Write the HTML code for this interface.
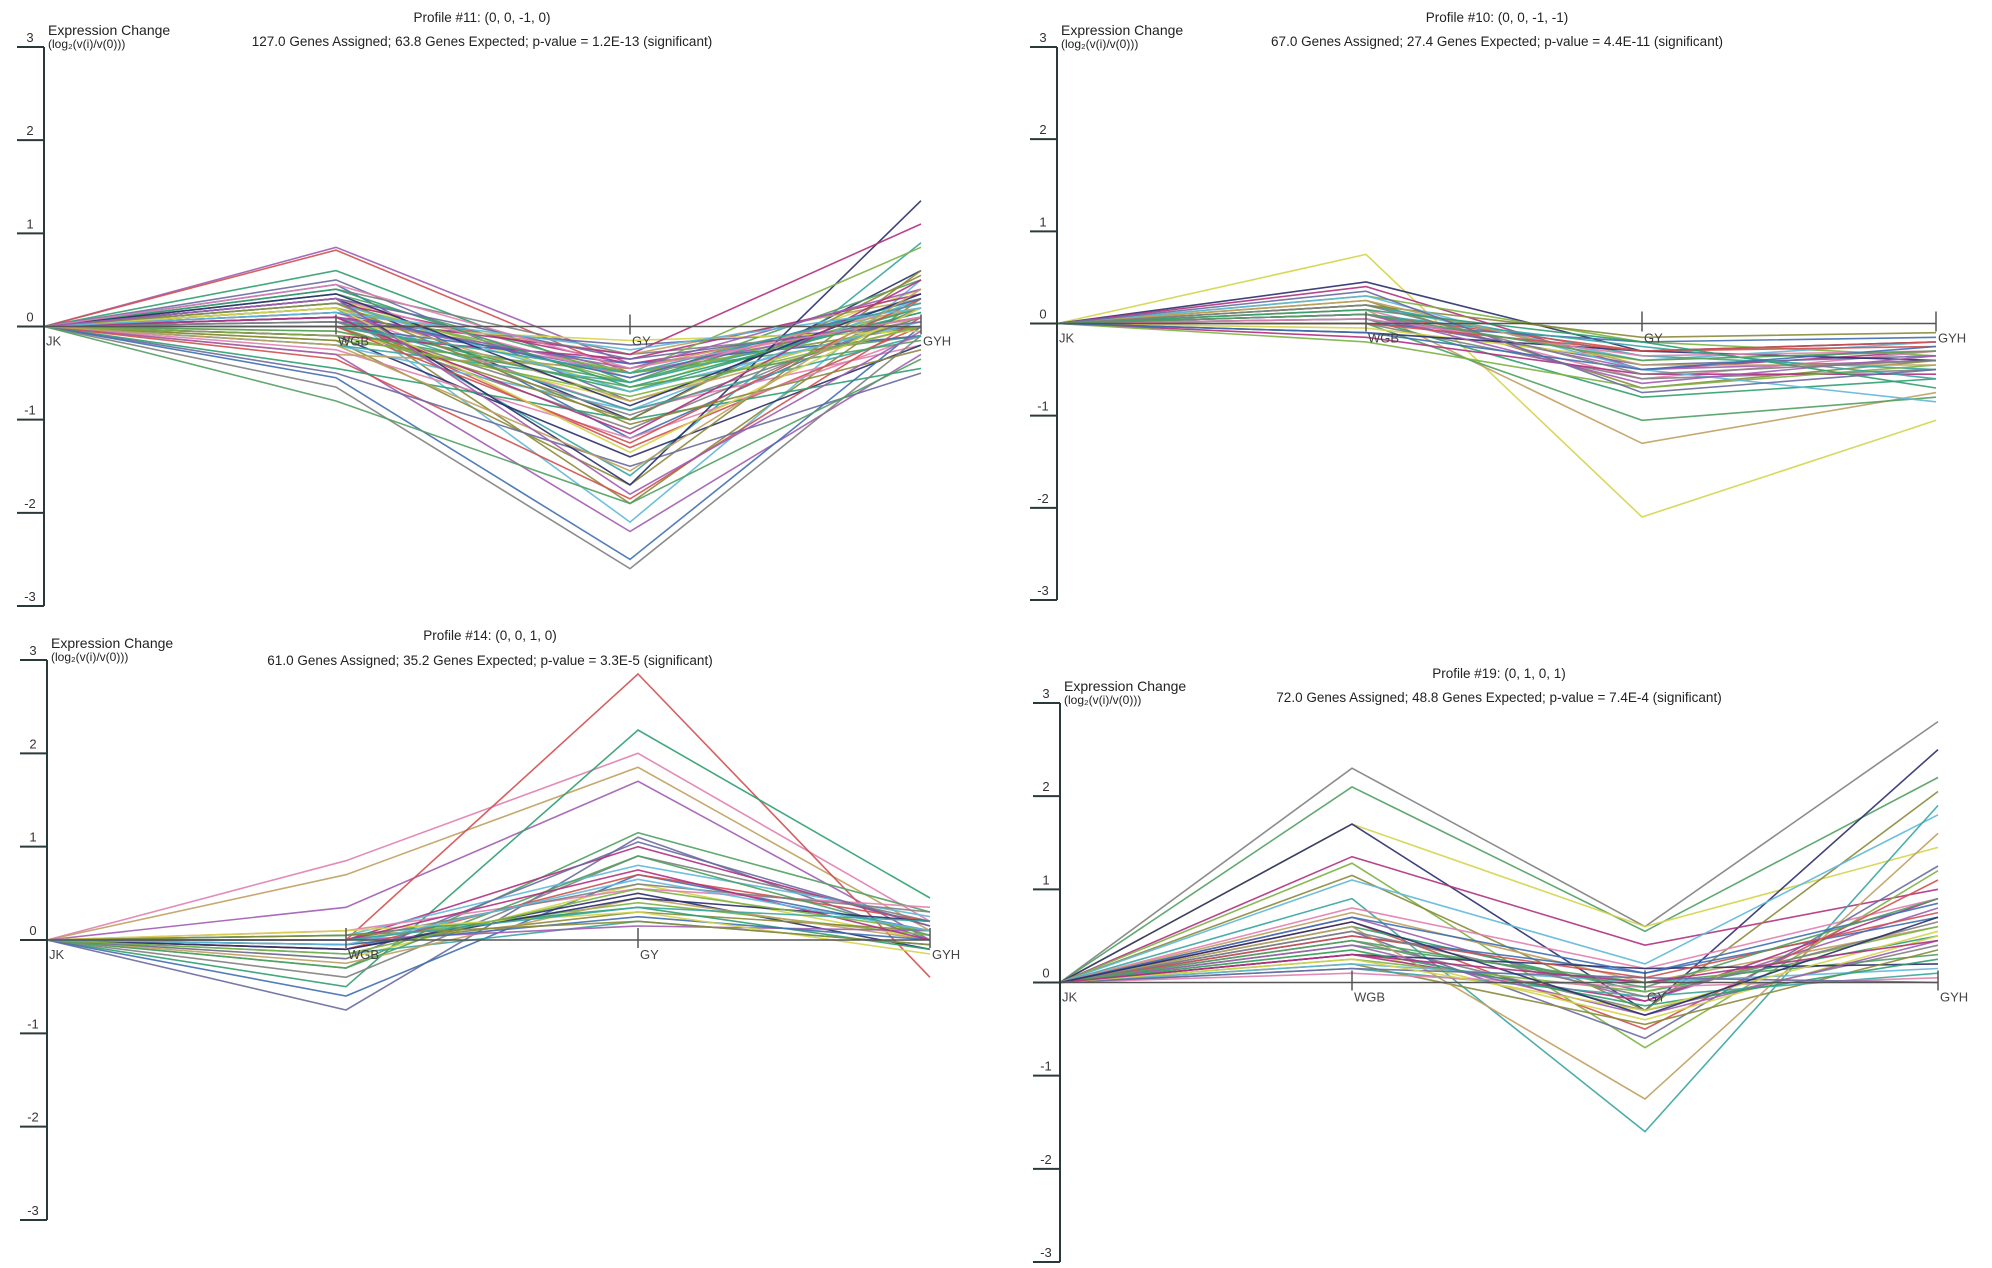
<!DOCTYPE html>
<html><head><meta charset="utf-8"><style>
body{margin:0;background:#fff;}
svg{display:block;font-family:"Liberation Sans",sans-serif;}
</style></head><body>
<svg id="chart" width="1992" height="1268" viewBox="0 0 1992 1268" xmlns="http://www.w3.org/2000/svg">
<rect width="1992" height="1268" fill="#fff"/>
</svg>
<script>
const categories = ["JK","WGB","GY","GYH"];
const yTicks = [3,2,1,0,-1,-2,-3];
const titles1 = ["Profile #11: (0, 0, -1, 0)","Profile #10: (0, 0, -1, -1)","Profile #14: (0, 0, 1, 0)","Profile #19: (0, 1, 0, 1)"];
const titles2 = ["127.0 Genes Assigned; 63.8 Genes Expected; p-value = 1.2E-13 (significant)","67.0 Genes Assigned; 27.4 Genes Expected; p-value = 4.4E-11 (significant)","61.0 Genes Assigned; 35.2 Genes Expected; p-value = 3.3E-5 (significant)","72.0 Genes Assigned; 48.8 Genes Expected; p-value = 7.4E-4 (significant)"];
const profile11 = [[0.85,-0.4,-0.1],[0.82,-0.5,0.0],[0.6,-0.6,0.3],[0.5,-0.8,0.1],[0.45,-1.2,0.2],[0.4,-0.3,0.0],[0.35,-0.5,-0.1],[0.3,-0.7,0.4],[0.3,-1.0,0.6],[0.25,-0.4,0.1],[0.25,-0.6,0.2],[0.2,-1.9,0.3],[0.2,-2.1,0.5],[0.2,-1.6,0.9],[0.15,-0.9,-0.2],[0.15,-0.3,0.3],[0.1,-0.5,0.1],[0.1,-1.3,0.0],[0.05,-0.7,0.2],[0.05,-0.2,0.0],[0.0,-0.4,-0.1],[0.0,-1.1,0.2],[0.0,-0.6,0.5],[-0.05,-0.8,0.1],[-0.1,-1.4,-0.2],[-0.1,-0.35,0.35],[-0.15,-0.5,0.0],[-0.15,-1.7,0.6],[-0.2,-0.9,0.3],[-0.2,-0.6,0.15],[-0.25,-1.2,-0.1],[-0.3,-0.45,0.2],[-0.3,-2.2,-0.3],[-0.35,-1.85,0.1],[-0.45,-1.0,-0.45],[-0.5,-1.5,-0.5],[-0.55,-2.5,0.0],[-0.65,-2.6,-0.1],[-0.8,-1.9,-0.35],[0.0,-0.15,-0.05],[0.3,-1.7,1.35],[0.1,-0.3,1.1],[0.2,-0.5,0.85],[0.0,-1.0,0.55],[0.25,-0.7,0.05],[0.1,-0.9,-0.1],[0.3,-0.55,0.25],[0.2,-0.8,0.0],[0.1,-0.45,0.4],[0.0,-1.25,0.3],[0.4,-0.65,0.15],[0.3,-0.35,0.05],[0.15,-0.55,0.3],[0.05,-0.95,0.1],[-0.05,-0.65,-0.15],[0.2,-1.35,0.2],[0.35,-0.85,0.35],[0.1,-1.15,0.5],[-0.1,-0.75,0.0],[0.25,-1.05,-0.25],[0.15,-0.25,0.2],[0.0,-0.5,0.25],[0.45,-0.45,0.1],[-0.2,-1.55,0.4],[0.3,-1.8,-0.05]];
const profile10 = [[0.75,-2.1,-1.05],[0.45,-0.3,-0.2],[0.4,-0.5,-0.3],[0.3,-0.2,-0.35],[0.25,-0.7,-0.4],[0.2,-0.4,-0.2],[0.2,-0.35,-0.5],[0.15,-0.6,-0.3],[0.15,-1.3,-0.75],[0.1,-0.5,-0.4],[0.1,-0.3,-0.25],[0.05,-0.8,-0.6],[0.05,-0.45,-0.35],[0.0,-0.2,-0.15],[0.0,-0.6,-0.5],[0.0,-1.05,-0.8],[-0.05,-0.4,-0.3],[-0.1,-0.3,-0.4],[-0.15,-0.55,-0.55],[-0.2,-0.7,-0.45],[0.2,-0.15,-0.1],[0.3,-0.5,-0.85],[0.1,-0.25,-0.6],[0.05,-0.35,-0.3],[0.25,-0.45,-0.45],[0.1,-0.65,-0.35],[0.0,-0.3,-0.2],[0.15,-0.2,-0.7],[0.35,-0.75,-0.5],[-0.1,-0.5,-0.25],[0.2,-0.55,-0.4],[0.1,-0.4,-0.3]];
const profile14 = [[0.85,2.0,0.2],[0.7,1.85,0.1],[0.35,1.7,0.0],[0.0,2.85,-0.4],[-0.5,2.25,0.45],[-0.75,1.1,0.0],[-0.6,0.7,0.1],[-0.4,0.9,0.2],[-0.3,1.15,0.3],[-0.2,0.6,0.0],[-0.1,0.5,-0.1],[0.0,1.0,0.15],[0.0,0.4,0.05],[-0.05,0.3,0.1],[0.05,0.8,0.25],[-0.15,0.2,-0.05],[0.1,0.55,0.35],[-0.25,0.45,0.0],[0.0,0.15,0.1],[-0.1,0.7,0.2],[0.05,0.35,-0.1],[-0.2,1.05,0.15],[-0.05,0.25,0.0],[0.0,0.6,0.3],[-0.3,0.9,0.05],[0.1,0.3,-0.15],[-0.1,0.45,0.2],[0.0,0.75,0.0],[-0.15,0.55,0.1],[0.05,0.2,-0.05],[-0.05,0.65,0.1],[0.0,0.35,0.2]];
const profile19 = [[2.3,0.6,2.8],[2.1,0.55,2.2],[1.7,0.6,1.45],[1.7,-0.3,2.5],[1.35,0.4,1.0],[1.28,-0.7,1.2],[1.15,-0.3,2.05],[1.1,0.2,1.8],[0.9,-1.6,1.9],[0.8,0.15,0.9],[0.75,0.0,0.6],[0.7,-0.2,0.8],[0.65,-0.5,1.1],[0.6,-0.1,0.5],[0.55,-0.6,1.25],[0.5,0.1,0.7],[0.45,-0.3,0.4],[0.4,0.0,0.3],[0.35,-0.4,0.5],[0.3,0.15,0.2],[0.3,-0.2,0.9],[0.25,-0.1,0.6],[0.2,-0.45,0.35],[0.2,0.0,0.15],[0.15,-0.15,0.1],[0.1,-0.05,0.05],[0.6,-1.25,1.6],[0.4,-0.35,0.45],[0.5,0.05,0.75],[0.35,-0.25,0.25],[0.15,0.05,0.0],[0.7,0.1,0.85],[0.55,-0.15,0.65],[0.45,-0.05,0.9],[0.25,-0.3,0.55],[0.65,-0.35,0.7],[0.3,0.0,0.45]];
const palette = ["#a05cb0","#3aa5a0","#7cb342","#d4d44a","#3f6fb0","#d05050","#e080b0","#8a8a3a","#2a2f6a","#808080","#2f9f6f","#c0a060","#5fb8d8","#b03080","#50a060","#6a6aa0"];

const panels = [
  {name:"profile-11",data:profile11,ax:44,xs:[44,336,630,921],y3:47,ym3:606,tx:482,t1:17,t2:41},
  {name:"profile-10",data:profile10,ax:1057,xs:[1057,1366,1642,1936],y3:47,ym3:600,tx:1497,t1:17,t2:41},
  {name:"profile-14",data:profile14,ax:47,xs:[47,346,638,930],y3:660,ym3:1220,tx:490,t1:635,t2:660},
  {name:"profile-19",data:profile19,ax:1060,xs:[1060,1352,1645,1938],y3:703,ym3:1262,tx:1499,t1:673,t2:697}
];
const NS="http://www.w3.org/2000/svg";
const svg=document.getElementById('chart');
function mk(tag,attrs,parent){const e=document.createElementNS(NS,tag);for(const k in attrs)e.setAttribute(k,attrs[k]);parent.appendChild(e);return e;}
panels.forEach((p,pi)=>{
  const g=mk('g',{},svg);
  
  
  const yS=v=>p.y3+(3-v)*(p.ym3-p.y3)/6;
  const y0=yS(0);
  p.data.forEach((s,i)=>{
    const vals=[0].concat(s);
    const pts=vals.map((v,k)=>p.xs[k]+','+yS(v).toFixed(1)).join(' ');
    const pl=mk('polyline',{points:pts,fill:'none',stroke:palette[(i*5+pi*3)%palette.length],'stroke-width':1.6,'stroke-opacity':0.9},g);
    
    
  });
  const zl=mk('line',{x1:p.ax,y1:y0,x2:p.xs[3],y2:y0,stroke:'#555','stroke-width':1.5},g);
  
  
  categories.forEach((c,k)=>{
    if(k>0){mk('line',{x1:p.xs[k],y1:y0-12,x2:p.xs[k],y2:y0+8,stroke:'#555','stroke-width':1.5},g);}
    const t=mk('text',{x:p.xs[k]+2,y:y0+19,'font-size':13,fill:'#444'},g);
    t.textContent=c;
    
    
  });
  const ya=mk('line',{x1:p.ax,y1:p.y3,x2:p.ax,y2:p.ym3,stroke:'#2a3a3a','stroke-width':2},g);
  
  
  yTicks.forEach(v=>{
    const y=yS(v);
    mk('line',{x1:p.ax-27,y1:y,x2:p.ax,y2:y,stroke:'#2a3a3a','stroke-width':2},g);
    const t=mk('text',{x:p.ax-14,y:y-5,'font-size':13,fill:'#333','text-anchor':'middle'},g);
    t.textContent=String(v);
    
    
  });
  const yt=mk('text',{x:p.ax+4,y:p.y3-12,'font-size':14,fill:'#222'},g);
  yt.textContent='Expression Change';
  
  
  const yt2=mk('text',{x:p.ax+4,y:p.y3+1,'font-size':12,fill:'#222'},g);
  yt2.textContent='(log\u2082(v(i)/v(0)))';
  
  
  const t1=mk('text',{x:p.tx,y:p.t1+5,'font-size':13.5,fill:'#222','text-anchor':'middle'},g);
  t1.textContent=titles1[pi];
  
  
  const t2=mk('text',{x:p.tx,y:p.t2+5,'font-size':13.5,fill:'#222','text-anchor':'middle'},g);
  t2.textContent=titles2[pi];
  
  
});
</script>
</body></html>
